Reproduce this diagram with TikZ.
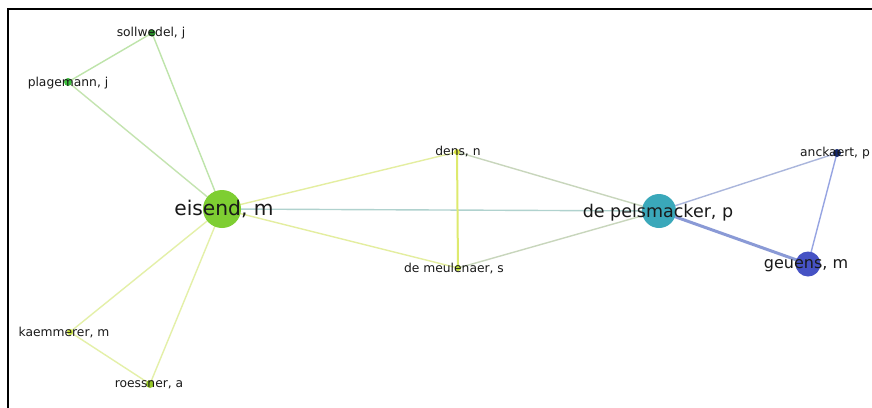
\documentclass[tikz,border=0pt]{standalone}
\usepackage{fontspec}
\setmainfont{DejaVu Sans}
\definecolor{eSoll}{HTML}{BEE4AA}
\definecolor{ePlag}{HTML}{C4E4B0}
\definecolor{eKaem}{HTML}{E4F0A8}
\definecolor{eDens}{HTML}{E4EEA0}
\definecolor{eEisPels}{HTML}{B0D2CE}
\definecolor{eDM}{HTML}{DEEA6E}
\definecolor{eDP}{HTML}{C8D6BC}
\definecolor{ePA}{HTML}{AAB6DC}
\definecolor{ePG}{HTML}{8A9AD6}
\definecolor{eAG}{HTML}{96A4E2}
\definecolor{cSoll}{HTML}{288C28}
\definecolor{cPlag}{HTML}{3CBE3C}
\definecolor{cEis}{HTML}{7ECE32}
\definecolor{cKaem}{HTML}{C8E23C}
\definecolor{cRoes}{HTML}{96C828}
\definecolor{cDens}{HTML}{DCE63C}
\definecolor{cMeul}{HTML}{BEDC3C}
\definecolor{cPels}{HTML}{3AA8BA}
\definecolor{cGeu}{HTML}{4652C4}
\definecolor{cAnc}{HTML}{14286E}
\begin{document}
\begin{tikzpicture}[x=1pt,y=-1pt,
  dot/.style={circle,inner sep=0pt,minimum size=#1},
  lbl/.style={inner sep=0pt,text=black!90,font=\fontsize{12.3}{13}\selectfont},
  biglbl/.style={inner sep=0pt,text=black!90,font=\fontsize{#1}{#1}\selectfont},
  edge/.style={line width=1.4pt,draw=#1}]
\useasboundingbox (0,0) rectangle (872,407);
\fill[white] (0,0) rectangle (872,407);
% frame
\draw[line width=2pt,line cap=rect] (8,407) -- (8,9) -- (872,9);
% node positions
\coordinate (sollP) at (152,33);
\coordinate (plagP) at (68,82);
\coordinate (eisP) at (222,209);
\coordinate (kaemP) at (70,332);
\coordinate (roesP) at (150,384);
\coordinate (densP) at (457,152);
\coordinate (meulP) at (458,268);
\coordinate (pelsP) at (659,211);
\coordinate (geuP) at (808,264);
\coordinate (ancP) at (837,153);
% edges
\draw[edge=eSoll] (sollP) -- (plagP);
\draw[edge=eSoll] (sollP) -- (eisP);
\draw[edge=ePlag] (plagP) -- (eisP);
\draw[edge=eKaem] (eisP) -- (kaemP);
\draw[edge=eKaem] (eisP) -- (roesP);
\draw[edge=eKaem] (kaemP) -- (roesP);
\draw[edge=eDens] (eisP) -- (densP);
\draw[edge=eDens] (eisP) -- (meulP);
\draw[edge=eEisPels] (eisP) -- (pelsP);
\draw[edge=eDM,line width=2pt] (densP) -- (meulP);
\draw[edge=eDP] (densP) -- (pelsP);
\draw[edge=eDP] (meulP) -- (pelsP);
\draw[edge=ePA] (pelsP) -- (ancP);
\draw[edge=ePG,line width=3pt] (pelsP) -- (geuP);
\draw[edge=eAG] (ancP) -- (geuP);
% dots
\node[dot=7pt,fill=cSoll] (soll) at (sollP) {};
\node[dot=8pt,fill=cPlag] (plag) at (plagP) {};
\node[dot=38pt,fill=cEis] (eis) at (eisP) {};
\node[dot=6pt,fill=cKaem] (kaem) at (kaemP) {};
\node[dot=8pt,fill=cRoes] (roes) at (roesP) {};
\node[dot=6pt,fill=cDens] (dens) at (densP) {};
\node[dot=6pt,fill=cMeul] (meul) at (meulP) {};
\node[dot=34pt,fill=cPels] (pels) at (pelsP) {};
\node[dot=25pt,fill=cGeu] (geu) at (geuP) {};
\node[dot=8pt,fill=cAnc] (anc) at (ancP) {};
% labels
\node[lbl] (sollL) at (151,33) {sollwedel, j};
\node[lbl] (plagL) at (68,83) {plagemann, j};
\node[biglbl=20.2] (eisL) at (224,209) {eisend, m};
\node[lbl] (kaemL) at (64,333) {kaemmerer, m};
\node[lbl] (roesL) at (149,385) {roessner, a};
\node[lbl] (densL) at (458,152) {dens, n};
\node[lbl] (meulL) at (454,269) {de meulenaer, s};
\node[biglbl=17.5] (pelsL) at (658,213) {de pelsmacker, p};
\node[biglbl=16] (geuL) at (806,266) {geuens, m};
\node[lbl,anchor=east] (ancL) at (870,153) {anckaert, p};
\end{tikzpicture}
\end{document}
